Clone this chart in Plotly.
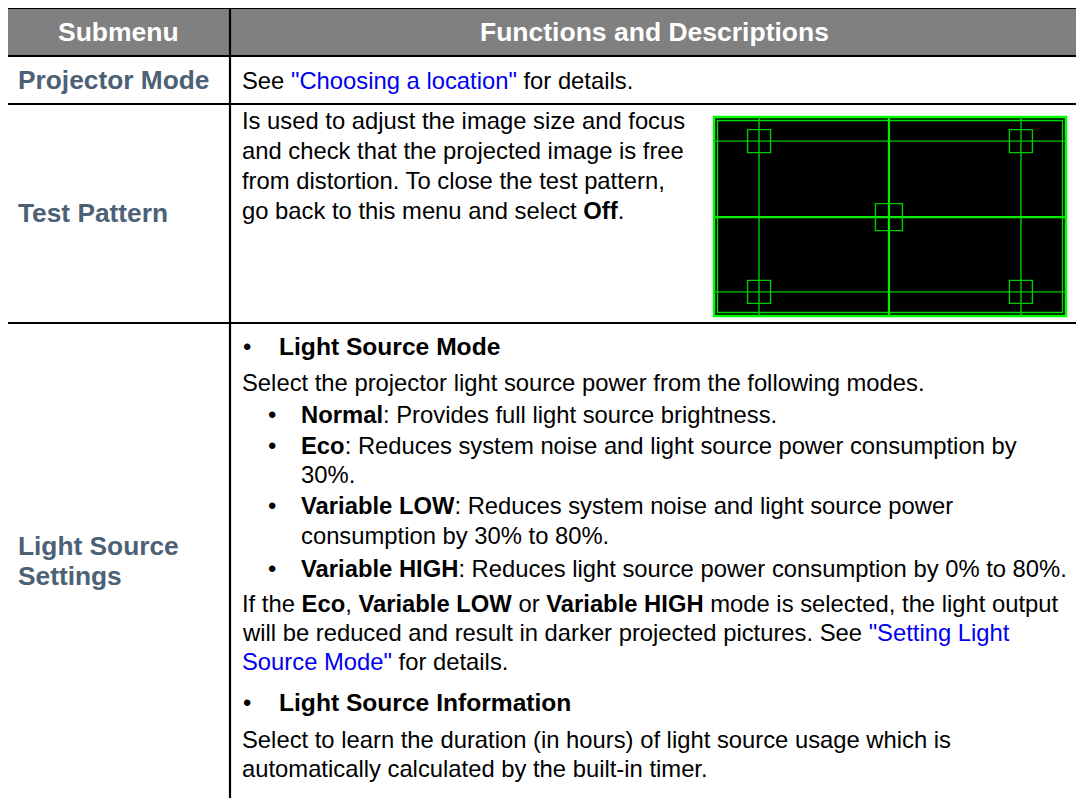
import plotly.graph_objects as go

# ---------------- content (data) ----------------
HEADERS = ["Submenu", "Functions and Descriptions"]
SUBMENUS = ["Projector Mode", "Test Pattern", "Light Source", "Settings"]
LINK = '<span style="color:#0000ee">{}</span>'

ROW1_LINES = ['See ' + LINK.format('"Choosing a location"') + ' for details.']
ROW2_LINES = [
    "Is used to adjust the image size and focus",
    "and check that the projected image is free",
    "from distortion. To close the test pattern,",
    "go back to this menu and select <b>Off</b>.",
]
ROW3_KINDS = ["bullet", "para", "sub", "sub", "cont", "sub", "cont", "sub",
              "para", "para", "para", "bullet", "para", "para"]
ROW3_LINES = [
    "<b>Light Source Mode</b>",
    "Select the projector light source power from the following modes.",
    "<b>Normal</b>: Provides full light source brightness.",
    "<b>Eco</b>: Reduces system noise and light source power consumption by",
    "30%.",
    "<b>Variable LOW</b>: Reduces system noise and light source power",
    "consumption by 30% to 80%.",
    "<b>Variable HIGH</b>: Reduces light source power consumption by 0% to 80%.",
    "If the <b>Eco</b>, <b>Variable LOW</b> or <b>Variable HIGH</b> mode is selected, the light output",
    "will be reduced and result in darker projected pictures. See " + LINK.format('"Setting Light'),
    LINK.format('Source Mode"') + " for details.",
    "<b>Light Source Information</b>",
    "Select to learn the duration (in hours) of light source usage which is",
    "automatically calculated by the built-in timer.",
]

# ---------------- layout constants ----------------
W, H = 1084, 798
OFF = 8  # default page margin of the html body
X_L, X_M, X_R = 6, 230, 1079
Y_TOP, Y_HDR, Y_R1, Y_R2, Y_BOT = 8, 56, 104, 323, 820
FONT = "Liberation Sans, Arial, Helvetica, sans-serif"
LABEL_COLOR = "#4c6176"
BODY_SIZE = 23.8
LABEL_SIZE = 26.3
HEAD_SIZE = 26.5
BULLET_HEAD_SIZE = 24.6

ROW1_Y = [80]
ROW2_Y = [120, 150, 180, 210]
ROW3_Y = [346, 382, 414, 445, 474, 505, 535, 568, 603, 632, 661, 702, 739, 768]
LABEL_Y = [80, 213, 546, 576]
X_TEXT = 240
X_BULLET, X_BULLET_TEXT = 241, 277
X_SUB_BULLET, X_SUB_TEXT = 266, 299

IMG = (714, 117, 1066, 316)  # test pattern picture box

fig = go.Figure()
fig.add_trace(go.Scatter(x=[OFF, W], y=[OFF, H], mode="markers",
                         marker=dict(opacity=0), hoverinfo="skip", showlegend=False))

shapes = []
shapes.append(dict(type="rect", x0=X_L, x1=X_R, y0=Y_TOP, y1=Y_HDR,
                   fillcolor="#808080", line=dict(width=0), layer="below"))
for y in [Y_TOP, Y_HDR, Y_R1, Y_R2]:
    shapes.append(dict(type="line", x0=X_L - 1, x1=X_R + 1, y0=y, y1=y,
                       line=dict(color="black", width=2.2)))
for x in [X_L, X_M, X_R]:
    shapes.append(dict(type="line", x0=x, x1=x, y0=Y_TOP, y1=Y_BOT,
                       line=dict(color="black", width=2.2)))

# test pattern picture
ix0, iy0, ix1, iy1 = IMG
iw, ih = ix1 - ix0, iy1 - iy0
shapes.append(dict(type="rect", x0=ix0, x1=ix1, y0=iy0, y1=iy1,
                   fillcolor="black", line=dict(color="#00ff00", width=2.5)))
shapes.append(dict(type="rect", x0=ix0 + 3.5, x1=ix1 - 3.5, y0=iy0 + 3.5, y1=iy1 - 3.5,
                   line=dict(color="#00dd00", width=1.3)))
VF = [0.128, 0.497, 0.872]
HF = [0.121, 0.503, 0.879]
for i, f in enumerate(VF):
    x = ix0 + f * iw
    shapes.append(dict(type="line", x0=x, x1=x, y0=iy0, y1=iy1,
                       line=dict(color="#00ee00" if i == 1 else "#00cc00",
                                 width=2.2 if i == 1 else 1.4)))
for i, f in enumerate(HF):
    y = iy0 + f * ih
    shapes.append(dict(type="line", x0=ix0, x1=ix1, y0=y, y1=y,
                       line=dict(color="#00ee00" if i == 1 else "#00cc00",
                                 width=2.2 if i == 1 else 1.4)))
for fx, fy, half in [(VF[0], HF[0], 11.5), (VF[2], HF[0], 11.5), (VF[0], HF[2], 11.5),
                     (VF[2], HF[2], 11.5), (VF[1], HF[1], 13.5)]:
    cx, cy = ix0 + fx * iw, iy0 + fy * ih
    shapes.append(dict(type="rect", x0=cx - half, x1=cx + half, y0=cy - half, y1=cy + half,
                       line=dict(color="#00cc00", width=1.4)))

ann = []


def txt(x, y, s, size=BODY_SIZE, color="black", xanchor="left", bold=False):
    ann.append(dict(x=x, y=y, xref="x", yref="y", text=("<b>%s</b>" % s) if bold else s,
                    showarrow=False, xanchor=xanchor, yanchor="middle",
                    font=dict(family=FONT, size=size, color=color)))


txt((X_L + X_M) / 2, (Y_TOP + Y_HDR) / 2, HEADERS[0], HEAD_SIZE, "white", "center", True)
txt((X_M + X_R) / 2, (Y_TOP + Y_HDR) / 2, HEADERS[1], HEAD_SIZE, "white", "center", True)

for s, y in zip(SUBMENUS, LABEL_Y):
    txt(16, y, s, LABEL_SIZE, LABEL_COLOR, bold=True)

for s, y in zip(ROW1_LINES, ROW1_Y):
    txt(X_TEXT, y, s)
for s, y in zip(ROW2_LINES, ROW2_Y):
    txt(X_TEXT, y, s)
for k, s, y in zip(ROW3_KINDS, ROW3_LINES, ROW3_Y):
    if k == "bullet":
        txt(X_BULLET, y, "•", BODY_SIZE)
        txt(X_BULLET_TEXT, y, s, BULLET_HEAD_SIZE)
    elif k == "sub":
        txt(X_SUB_BULLET, y, "•", BODY_SIZE)
        txt(X_SUB_TEXT, y, s)
    elif k == "cont":
        txt(X_SUB_TEXT, y, s)
    else:
        txt(X_TEXT, y, s)

fig.update_layout(
    width=W - OFF, height=H - OFF, margin=dict(l=0, r=0, t=0, b=0),
    paper_bgcolor="white", plot_bgcolor="white",
    xaxis=dict(range=[OFF, W], visible=False, fixedrange=True),
    yaxis=dict(range=[H, OFF], visible=False, fixedrange=True),
    shapes=shapes, annotations=ann, showlegend=False,
)
fig.write_html("out.html", config={"displayModeBar": False})
